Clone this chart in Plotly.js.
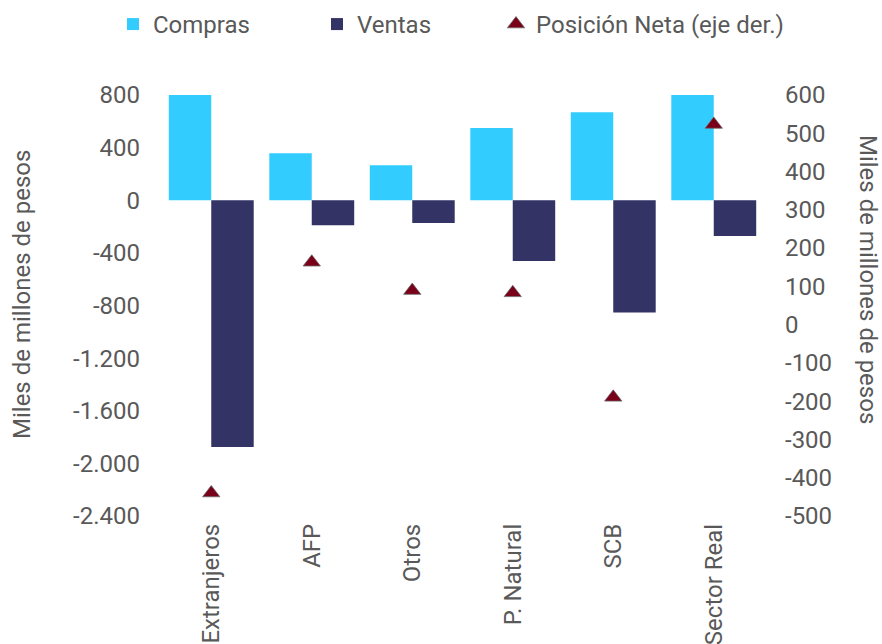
<!DOCTYPE html>
<html>
<head>
<meta charset="utf-8">
<script src="https://cdn.plot.ly/plotly-3.0.1.min.js"></script>
<style>html,body{margin:0;padding:0;background:#fff;}#chart{width:882px;height:644px;}</style>
</head>
<body>
<div id="chart"></div>
<script>
const categories = ["Extranjeros", "AFP", "Otros", "P. Natural", "SCB", "Sector Real"];
const compras = [805, 357, 266, 549, 669, 804];
const ventas = [-1875, -190, -172, -461, -853, -272];
const posicionNeta = [-440, 163, 89, 83, -190, 523];
const leftTickVals = [-2400, -2000, -1600, -1200, -800, -400, 0, 400, 800];
const leftTickText = ["-2.400", "-2.000", "-1.600", "-1.200", "-800", "-400", "0", "400", "800"];
const rightTickVals = [-500, -400, -300, -200, -100, 0, 100, 200, 300, 400, 500, 600];
const rightTickText = ["-500", "-400", "-300", "-200", "-100", "0", "100", "200", "300", "400", "500", "600"];
const axisTitle = "Miles de millones de pesos";

const FONT = "Roboto, 'Liberation Sans', sans-serif";
const GRAY = "#595959";
const FS = 24;

const traces = [
  { type: "bar", name: "Compras", x: categories, y: compras, marker: { color: "#33CCFF" }, legend: "legend" },
  { type: "bar", name: "Ventas", x: categories, y: ventas, marker: { color: "#333366" }, legend: "legend2" },
  { type: "scatter", mode: "markers", name: "Posición Neta (eje der.)", x: categories, y: posicionNeta, yaxis: "y2",
    marker: { symbol: "triangle-up", size: 15, color: "#7A0019", line: { color: "#6b6b6b", width: 0.8 } }, legend: "legend3" }
];

const legBase = { orientation: "h", xref: "container", yref: "container", xanchor: "left", yanchor: "middle", y: 0.962,
  font: { family: FONT, size: FS, color: GRAY }, bgcolor: "rgba(0,0,0,0)" };

const layout = {
  width: 882, height: 644,
  margin: { l: 161, r: 118, t: 95, b: 128 },
  paper_bgcolor: "#fff", plot_bgcolor: "#fff",
  font: { family: FONT, size: FS, color: GRAY },
  barmode: "group",
  bargap: 0.155,
  bargroupgap: 0,
  showlegend: true,
  legend: Object.assign({}, legBase, { x: 113 / 882 }),
  legend2: Object.assign({}, legBase, { x: 317 / 882 }),
  legend3: Object.assign({}, legBase, { x: 496 / 882 }),
  xaxis: {
    type: "category", tickangle: -90, showgrid: false, zeroline: false, showline: false, ticks: "",
    tickfont: { family: FONT, size: FS, color: GRAY }, ticklabelstandoff: 2
  },
  yaxis: {
    range: [-2400, 800], tickvals: leftTickVals, ticktext: leftTickText,
    showgrid: false, zeroline: false, showline: false, ticks: "", ticklabelstandoff: 20,
    tickfont: { family: FONT, size: FS, color: GRAY }
  },
  yaxis2: {
    overlaying: "y", side: "right", range: [-500, 600], tickvals: rightTickVals, ticktext: rightTickText,
    showgrid: false, zeroline: false, showline: false, ticks: "", ticklabelstandoff: 20,
    tickfont: { family: FONT, size: FS, color: GRAY }
  },
  annotations: [
    { text: axisTitle, xref: "paper", yref: "paper", x: -0.2305, y: 0.525, xanchor: "center", yanchor: "middle",
      textangle: -90, showarrow: false, font: { family: FONT, size: FS, color: GRAY } },
    { text: axisTitle, xref: "paper", yref: "paper", x: 1.1725, y: 0.563, xanchor: "center", yanchor: "middle",
      textangle: 90, showarrow: false, font: { family: FONT, size: FS, color: GRAY } }
  ]
};

Plotly.newPlot("chart", traces, layout, { displayModeBar: false, staticPlot: true });
</script>
</body>
</html>
